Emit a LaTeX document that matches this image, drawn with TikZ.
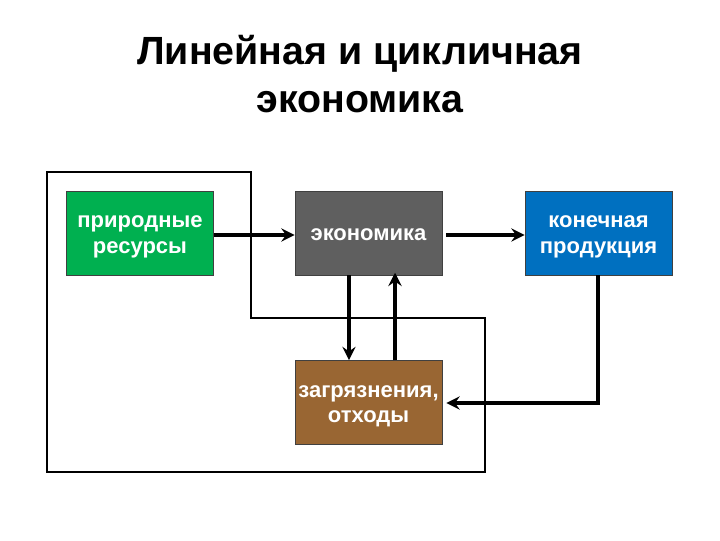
\documentclass[tikz,border=0pt]{standalone}
\usepackage{fontspec}
\setmainfont{Liberation Sans}
\usetikzlibrary{arrows.meta}
\definecolor{boxgreen}{HTML}{00B050}
\definecolor{boxgray}{HTML}{5F5F5F}
\definecolor{boxblue}{HTML}{0070C0}
\definecolor{boxbrown}{HTML}{996633}
\tikzset{
  blk/.style={draw=black!75, line width=0.6pt, minimum width=147*0.75pt, minimum height=84*0.75pt,
    inner sep=0pt},
  lbl/.style={inner sep=0pt, text=white, font=\bfseries\fontsize{16.5}{19}\selectfont, align=center},
  flow/.style={line width=2.8pt, -{Stealth[length=10pt,width=10pt,inset=3.5pt]}},
  loopline/.style={line width=1.8pt},
}
\begin{document}
\begin{tikzpicture}[x=0.75pt,y=-0.75pt]
\useasboundingbox (0,0) rectangle (720,540);
\node[font=\bfseries\fontsize{29.5}{36}\selectfont, align=center] (title) at (360,74.5) {Линейная и цикличная\\экономика};
\node[blk, fill=boxgreen] (res) at (140,233) {};
\node[blk, fill=boxgray] (eco) at (368.5,233) {};
\node[blk, fill=boxblue] (prod) at (598.5,233) {};
\node[blk, fill=boxbrown] (waste) at (368.5,402.5) {};
\node[lbl] (res-t) at ([yshift=-2.8pt]res.center) {природные\\ресурсы};
\node[lbl] (eco-t) at ([yshift=-1.5pt]eco.center) {экономика};
\node[lbl] (prod-t) at ([yshift=-2.8pt]prod.center) {конечная\\продукция};
\node[lbl] (waste-t) at ([yshift=-2.8pt]waste.center) {загрязнения,\\отходы};
% loop
\coordinate (l1) at (47,172);
\coordinate (l2) at (251,172);
\coordinate (l3) at (251,318);
\coordinate (l4) at (485,318);
\coordinate (l5) at (485,472);
\coordinate (l6) at (47,472);
\draw[loopline] (l1) -- (l2) -- (l3) -- (l4) -- (l5) -- (l6) -- cycle;
% flows
\draw[flow] (res.east |- 0,235) -- (eco.west |- 0,235);
\draw[flow] ([xshift=3pt]eco.east |- 0,235) -- (prod.west |- 0,235);
\draw[flow] (eco.south -| 349,0) -- (waste.north -| 349,0);
\draw[flow] (waste.north -| 395,0) -- ([yshift=2pt]eco.south -| 395,0);
\coordinate (c1) at (598,403);
\draw[flow] (prod.south -| 598,0) -- (c1) -- ([xshift=3pt]waste.east |- 0,403);
\end{tikzpicture}
\end{document}
